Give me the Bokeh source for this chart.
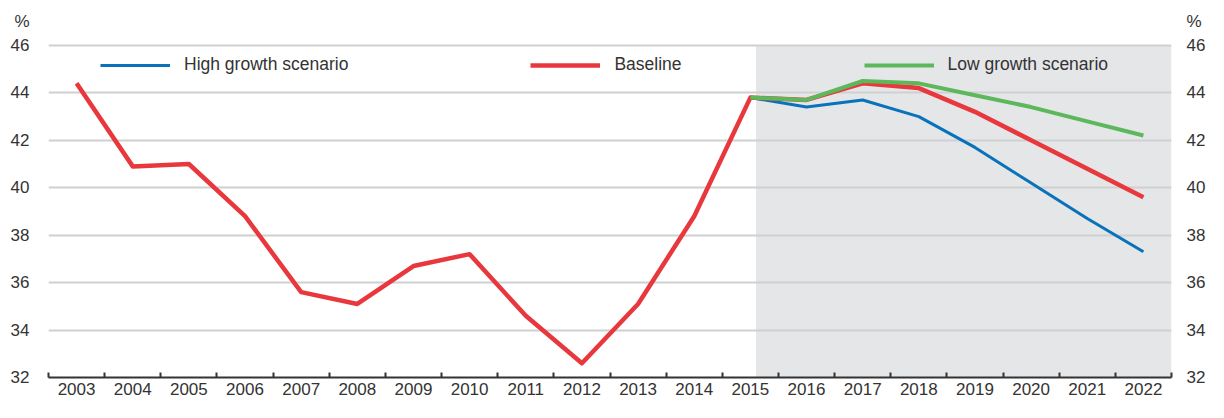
from bokeh.plotting import figure
from bokeh.models import (FixedTicker, LinearAxis, BoxAnnotation, Legend, LegendItem)
from bokeh.embed import file_html
from bokeh.resources import INLINE

years = list(range(2003, 2023))
baseline = [44.4, 40.9, 41.0, 38.8, 35.6, 35.1, 36.7, 37.2, 34.6, 32.6, 35.1, 38.8,
            43.8, 43.7, 44.4, 44.2, 43.2, 42.0, 40.8, 39.6]
proj_years = list(range(2015, 2023))
high_growth = [43.8, 43.4, 43.7, 43.0, 41.7, 40.2, 38.7, 37.3]
low_growth = [43.8, 43.7, 44.5, 44.4, 43.9, 43.4, 42.8, 42.2]
y_ticks = [32, 34, 36, 38, 40, 42, 44, 46]
unit_label = "%"
unit_pos = 47
projection_start = 2015.1

FONT = "Liberation Sans"
TXT = "#333333"
BLUE = "#0a72ba"
RED = "#e8383d"
GREEN = "#5cb85a"

p = figure(width=1208, height=402, output_backend="svg", toolbar_location=None,
           x_range=(2002.5, 2022.5), y_range=(32, 47.05),
           min_border_left=48, min_border_right=0, min_border_top=20, min_border_bottom=25)
p.outline_line_color = None
p.background_fill_color = "white"
p.title.visible = False

shade = BoxAnnotation(left=projection_start, top=y_ticks[-1], fill_color="#e5e6e8",
                      fill_alpha=1.0, line_color=None, level="image")
p.add_layout(shade)

# x axis: labels at the years, small tick marks between years
xa = p.xaxis[0]
xa.ticker = FixedTicker(ticks=years, minor_ticks=[y - 0.5 for y in years] + [years[-1] + 0.5])
xa.major_label_overrides = {y: str(y) for y in years}
xa.major_tick_line_color = None
xa.major_tick_in = 0
xa.major_tick_out = 0
xa.minor_tick_in = 5
xa.minor_tick_out = 0
xa.minor_tick_line_color = TXT
xa.minor_tick_line_width = 2
xa.axis_line_color = TXT
xa.axis_line_width = 2
xa.major_label_text_font = FONT
xa.major_label_text_font_size = "17px"
xa.major_label_text_color = TXT
xa.major_label_standoff = 5

# y axes on both sides, with the unit shown above the top tick
ya = p.yaxis[0]
ra = LinearAxis()
p.add_layout(ra, "right")
for a, standoff in ((ya, 19), (ra, 15)):
    a.ticker = FixedTicker(ticks=y_ticks + [unit_pos])
    a.major_label_overrides = {unit_pos: unit_label}
    a.axis_line_color = None
    a.major_tick_line_color = None
    a.minor_tick_line_color = None
    a.major_tick_in = 0
    a.major_tick_out = 0
    a.minor_tick_out = 0
    a.major_label_text_font = FONT
    a.major_label_text_font_size = "17px"
    a.major_label_text_color = TXT
    a.major_label_standoff = standoff

p.xgrid.grid_line_color = None
p.ygrid.ticker = FixedTicker(ticks=y_ticks)
p.ygrid.grid_line_color = "#cfd0d2"
p.ygrid.grid_line_width = 2

r_high = p.line(proj_years, high_growth, line_color=BLUE, line_width=3, line_join="round")
r_base = p.line(years, baseline, line_color=RED, line_width=4.5, line_join="round")
r_low = p.line(proj_years, low_growth, line_color=GREEN, line_width=4, line_join="round")

legend = Legend(items=[LegendItem(label="High growth scenario", renderers=[r_high]),
                       LegendItem(label="Baseline", renderers=[r_base]),
                       LegendItem(label="Low growth scenario", renderers=[r_low])],
                orientation="horizontal", location=(52, 302),
                glyph_width=70, glyph_height=20, label_standoff=14, spacing=182,
                padding=0, margin=0, border_line_color=None, background_fill_alpha=0,
                label_text_font=FONT, label_text_font_size="17.5px", label_text_color=TXT)
p.add_layout(legend, "center")

open("out.html", "w").write(file_html(p, INLINE))
